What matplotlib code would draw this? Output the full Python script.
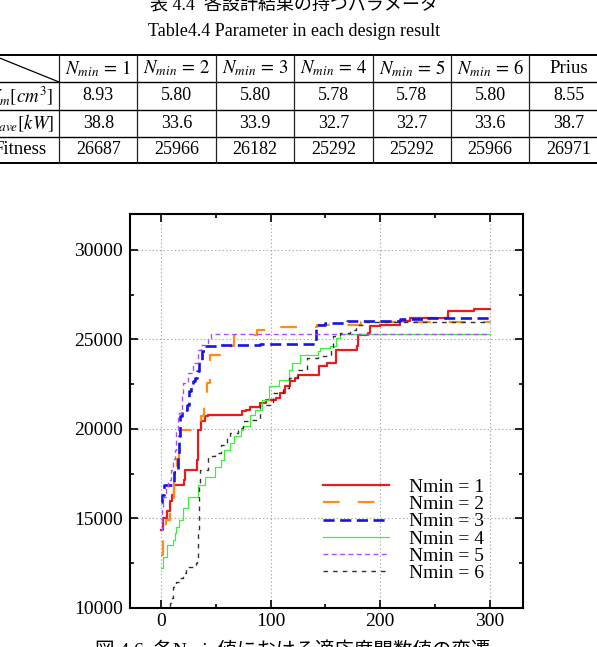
import matplotlib
matplotlib.use('Agg')
import matplotlib.pyplot as plt
from matplotlib.ticker import MultipleLocator

plt.rcParams['font.family'] = ['Liberation Serif', 'Noto Sans CJK JP']
plt.rcParams['mathtext.fontset'] = 'stix'
plt.rcParams['lines.scale_dashes'] = False

# table values
col_labels = [r'$N_{min}\,=\,1$', r'$N_{min}\,=\,2$', r'$N_{min}\,=\,3$', r'$N_{min}\,=\,4$',
              r'$N_{min}\,=\,5$', r'$N_{min}\,=\,6$', 'Prius']
row_labels = [r'$V_m[cm^3]$', r'$P_{ave}[kW]$', 'Fitness']
volume = ['8.93', '5.80', '5.80', '5.78', '5.78', '5.80', '8.55']
power = ['38.8', '33.6', '33.9', '32.7', '32.7', '33.6', '38.7']
fitness = ['26687', '25966', '26182', '25292', '25292', '25966', '26971']

# fitness history (generation, best fitness) for each Nmin
gen_1 = [0, 2, 6, 8, 10, 12, 21, 22, 32, 33, 34, 37, 40, 43, 74, 78, 81, 90, 96, 105, 109, 113,
         118, 122, 125, 144, 151, 160, 179, 180, 189, 191, 200, 218, 227, 262, 285, 300]
fit_1 = [14350, 15000, 15400, 15950, 16300, 16880, 17160, 17700, 17700, 18270, 19950, 20420, 20700,
         20790, 20975, 21070, 21250, 21445, 21630, 21740, 22000, 22370, 22650, 22840, 23030, 23490,
         23680, 24420, 24610, 25260, 25360, 25730, 25820, 26010, 26200, 26570, 26687, 26687]

gen_2 = [0, 2, 5, 8, 12, 15, 17, 18, 33, 37, 39, 42, 45, 64, 67, 88, 98, 142, 182, 300]
fit_2 = [12960, 13990, 14920, 15940, 17160, 18300, 19400, 19950, 20300, 20700, 21810, 22560, 24150,
         24610, 25260, 25540, 25690, 25820, 25966, 25966]

gen_3 = [0, 1, 3, 10, 12, 15, 16, 17, 18, 19, 24, 26, 28, 29, 31, 33, 35, 38, 40, 54, 90, 141,
         150, 170, 218, 240, 300]
fit_3 = [15940, 16320, 16880, 16990, 17620, 17715, 18460, 19580, 20700, 21070, 21350, 22100, 22470,
         22650, 22860, 23210, 23800, 24330, 24610, 24700, 24760, 25820, 25920, 26010, 26140, 26182,
         26182]

gen_4 = [0, 2, 6, 11, 13, 14, 17, 20, 25, 34, 40, 49, 55, 58, 63, 67, 73, 75, 81, 86, 92, 99, 108,
         117, 120, 127, 143, 145, 154, 160, 163, 300]
fit_4 = [12220, 12870, 13520, 13800, 14180, 14550, 14920, 15570, 16220, 16880, 17340, 17900, 18270,
         18830, 19210, 19580, 19950, 20140, 20790, 21070, 21630, 22370, 22750, 23310, 23700, 24145,
         24330, 24520, 24610, 25080, 25292, 25292]

gen_5 = [0, 1, 2, 5, 7, 9, 11, 13, 14, 16, 17, 19, 20, 25, 29, 34, 37, 43, 46, 300]
fit_5 = [14360, 15470, 16200, 16770, 17160, 17715, 18300, 18830, 19950, 20700, 20900, 22000, 22560,
         23120, 23680, 24420, 24700, 25080, 25292, 25292]

gen_6 = [0, 8, 9, 11, 14, 17, 20, 23, 25, 32, 33, 34, 35, 36, 43, 49, 55, 60, 63, 70, 75, 81, 90,
         102, 111, 117, 125, 133, 143, 155, 157, 163, 172, 178, 185, 300]
fit_6 = [9000, 10300, 10560, 11190, 11470, 11660, 11940, 12220, 12310, 12500, 12680, 14360, 16880,
         17715, 18460, 18650, 19110, 19490, 19770, 20050, 20415, 20510, 21350, 22000, 22280, 22840,
         23300, 23960, 24050, 24420, 25170, 25360, 25540, 25820, 25966, 25966]

labels = ['Nmin = 1', 'Nmin = 2', 'Nmin = 3', 'Nmin = 4', 'Nmin = 5', 'Nmin = 6']


def draw_table(ax):
    col_w = 78.4
    x_edges = [59 + i * col_w for i in range(8)]
    y_edges = [55, 82, 110, 137, 163]

    ax.text(294, 5, '表 4.4  各設計結果の持つパラメータ', ha='center', va='center', fontsize=13)
    ax.text(294, 32, 'Table4.4 Parameter in each design result', ha='center', va='center',
            fontsize=13)

    for k, y in enumerate(y_edges):
        lw = 1.4 if k in (0, len(y_edges) - 1) else 1.0
        ax.plot([-5, 600], [y, y], color='black', lw=lw)
    for x in x_edges:
        ax.plot([x, x], [y_edges[0], y_edges[-1]], color='#222222', lw=0.9)
    ax.plot([-40, x_edges[0]], [42, y_edges[1]], color='black', lw=0.9)

    for j, lab in enumerate(col_labels):
        cx = x_edges[j] + col_w / 2
        ax.text(cx, 68.5, lab, ha='center', va='center', fontsize=13.5)
        for i, vals in enumerate([volume, power, fitness]):
            cy = (y_edges[i + 1] + y_edges[i + 2]) / 2
            ax.text(cx, cy, vals[j], ha='center', va='center', fontsize=13)
    for i, lab in enumerate(row_labels):
        cy = (y_edges[i + 1] + y_edges[i + 2]) / 2
        ax.text(20.5, cy, lab, ha='center', va='center', fontsize=13.5)


def plot_history(ax):
    series = [(gen_1, fit_1), (gen_2, fit_2), (gen_3, fit_3),
              (gen_4, fit_4), (gen_5, fit_5), (gen_6, fit_6)]
    styles = [dict(color='#e81c1c', lw=1.6),
              dict(color='#ff8c1a', lw=1.6, dashes=(12, 13)),
              dict(color='#1414e6', lw=1.9, dashes=(8, 4)),
              dict(color='#3cf03c', lw=0.9),
              dict(color='#a650ff', lw=1.0, dashes=(3.5, 2.5)),
              dict(color='#333333', lw=1.0, dashes=(3.3, 3.6))]
    for (g, f), st, lab in zip(series, styles, labels):
        ax.step(g, f, where='post', label=lab, **st)

    ax.set_xlim(-28, 330)
    ax.set_ylim(10000, 32000)
    ax.xaxis.set_major_locator(MultipleLocator(100))
    ax.xaxis.set_minor_locator(MultipleLocator(50))
    ax.yaxis.set_major_locator(MultipleLocator(5000))
    ax.yaxis.set_minor_locator(MultipleLocator(2500))
    ax.tick_params(which='both', direction='in', top=True, right=True, width=1.2, labelsize=14)
    ax.tick_params(which='major', length=6)
    ax.tick_params(which='minor', length=3)
    ax.tick_params(axis='y', pad=5)
    ax.tick_params(axis='x', pad=3.5)
    for sp in ax.spines.values():
        sp.set_linewidth(1.5)
    ax.grid(True, which='major', color='#aaaaaa', linestyle=':', lw=0.8)

    ax.legend(loc='lower left', bbox_to_anchor=(0.492, 0.066), frameon=False, fontsize=14,
              handlelength=3.4, handletextpad=1.0, labelspacing=-0.02, borderpad=0,
              borderaxespad=0)


fig = plt.figure(figsize=(5.97, 6.47), dpi=100)

ax0 = fig.add_axes([0, 0, 1, 1])
ax0.set_xlim(0, 597)
ax0.set_ylim(647, 0)
ax0.axis('off')
draw_table(ax0)
ax0.text(293, 641, '図 4.6  各Nmin値における適応度関数値の変遷', ha='center', va='top', fontsize=14)

ax = fig.add_axes([130 / 597, 39 / 647, 393 / 597, 394 / 647])
plot_history(ax)

fig.savefig('out.png', dpi=100)
